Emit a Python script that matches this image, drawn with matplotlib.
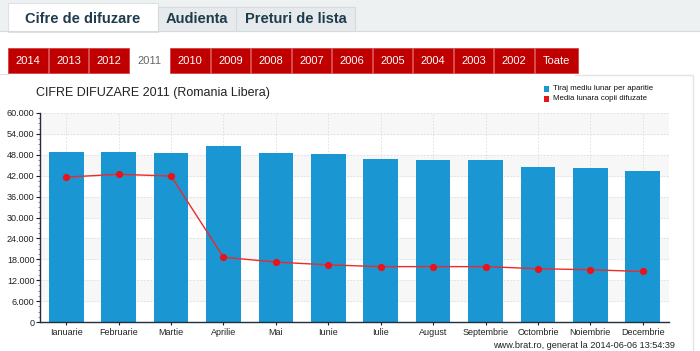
import matplotlib
matplotlib.use("Agg")
import matplotlib.pyplot as plt
from matplotlib.patches import Rectangle
from matplotlib.ticker import FuncFormatter, MultipleLocator

plt.rcParams['font.family'] = ['Liberation Sans', 'DejaVu Sans']

months = ["Ianuarie", "Februarie", "Martie", "Aprilie", "Mai", "Iunie",
          "Iulie", "August", "Septembrie", "Octombrie", "Noiembrie", "Decembrie"]
tiraj = [48900, 48900, 48600, 50500, 48600, 48100, 46800, 46500, 46500, 44400, 44100, 43400]
difuzate = [41600, 42400, 41900, 18600, 17200, 16400, 15900, 15900, 15900, 15300, 15000, 14500]
series_names = ["Tiraj mediu lunar per aparitie", "Media lunara copii difuzate"]
main_tabs = ["Cifre de difuzare", "Audienta", "Preturi de lista"]
year_tabs = ["2014", "2013", "2012", "2011", "2010", "2009", "2008", "2007",
             "2006", "2005", "2004", "2003", "2002", "Toate"]
active_year = "2011"
title = "CIFRE DIFUZARE 2011 (Romania Libera)"
footer = "www.brat.ro, generat la 2014-06-06 13:54:39"

W, H = 700, 351
fig = plt.figure(figsize=(W / 100, H / 100), dpi=100)
fig.patch.set_facecolor("white")

def fx(x):
    return x / W

def fy(y):
    return 1 - y / H

def rect(x0, y0, x1, y1, fc, ec="none", lw=0.8, z=0):
    fig.patches.append(Rectangle((fx(x0), fy(y1)), fx(x1) - fx(x0), fy(y0) - fy(y1),
                                 transform=fig.transFigure, facecolor=fc,
                                 edgecolor=ec, linewidth=lw, zorder=z))

# top tab strip
rect(0, 0, 700, 31, "#eef1f2", z=0)
fig.lines.append(plt.Line2D([0, 1], [fy(31), fy(31)], transform=fig.transFigure,
                            color="#d5dadc", lw=0.8))
tab_x = [(8, 158), (158, 236), (236, 355)]
for i, (name, (x0, x1)) in enumerate(zip(main_tabs, tab_x)):
    if i == 0:
        rect(x0, 3, x1, 32, "white", ec="#dde2e4", z=1)
    else:
        rect(x0, 7, x1, 31, "#e6eaec", ec="#d5dadc", z=1)
    fig.text(fx((x0 + x1) / 2), fy(19), name, ha="center", va="center",
             fontsize=10.5, fontweight="bold", color="#1e3c4c", zorder=3)

# year tabs
x = 8
for yt in year_tabs:
    w = 44 if yt == "Toate" else 40.5
    if yt == active_year:
        fig.text(fx(x + w / 2), fy(61), yt, ha="center", va="center",
                 fontsize=8, color="#666666", zorder=3)
    else:
        rect(x, 48, x + w - 1, 73, "#c00000", ec="#d84040", lw=0.6, z=1)
        fig.text(fx(x + w / 2), fy(61), yt, ha="center", va="center",
                 fontsize=8, color="white", zorder=3)
    x += w
fig.lines.append(plt.Line2D([fx(0), fx(8)], [fy(74), fy(74)], transform=fig.transFigure,
                            color="#e0e0e0", lw=0.8))
# chart panel border
fig.lines.append(plt.Line2D([fx(575), fx(693), fx(693)], [fy(75), fy(75), fy(351)],
                            transform=fig.transFigure, color="#e4e4e4", lw=1.0))

fig.text(fx(36), fy(93), title, ha="left", va="center", fontsize=9, color="#222222")

ax = fig.add_axes([fx(40), fy(322), fx(669) - fx(40), fy(113) - fy(322)])
xs = list(range(len(months)))
ax.bar(xs, tiraj, width=0.66, color="#1a96d2", zorder=2, label=series_names[0])
ax.plot(xs, difuzate, color="#ee2a2a", lw=1.0, marker="o", markersize=4.2,
        markerfacecolor="#e8141b", markeredgecolor="#e8141b", zorder=3,
        label=series_names[1])
ax.set_xlim(-0.5, len(months) - 0.5)
ax.set_ylim(0, 60000)
ax.yaxis.set_major_locator(MultipleLocator(6000))
ax.yaxis.set_minor_locator(MultipleLocator(1500))
ax.yaxis.set_major_formatter(FuncFormatter(lambda v, p: f"{int(v):,}".replace(",", ".")))
ax.set_xticks(xs)
ax.set_xticklabels(months)
ax.tick_params(axis="x", length=2, labelsize=6.5, colors="#222222", pad=2)
ax.tick_params(axis="y", which="major", length=3, labelsize=6.5, colors="#222222", pad=1)
ax.tick_params(axis="y", which="minor", length=1.5, color="#c06060")
for s in ["top", "right"]:
    ax.spines[s].set_visible(False)
for s in ["left", "bottom"]:
    ax.spines[s].set_color("#1e3040")
    ax.spines[s].set_linewidth(1.0)
ax.grid(True, axis="both", color="#dddddd", linestyle=(0, (2, 2)), lw=0.6, zorder=0)
ax.set_axisbelow(True)
for k in range(0, 10, 2):
    ax.axhspan(k * 6000 + 6000, k * 6000 + 12000, color="#f7f7f7", zorder=0)

# legend
for i, (name, c) in enumerate(zip(series_names, ["#1a96d2", "#e8141b"])):
    yy = 89 + i * 10
    rect(544, yy - 3, 549, yy + 3, c, z=3)
    fig.text(fx(553), fy(yy), name, ha="left", va="center", fontsize=5.7,
             color="#111111")

fig.text(fx(675), fy(345), footer, ha="right", va="center", fontsize=6.6, color="#222222")

fig.savefig("out.png", dpi=100)
